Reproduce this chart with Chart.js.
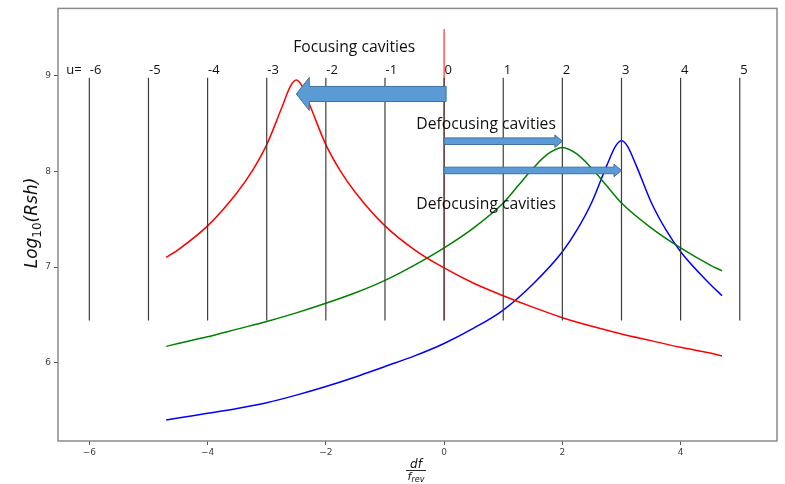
<!DOCTYPE html>
<html><head><meta charset="utf-8">
<script src="https://cdn.jsdelivr.net/npm/chart.js@4/dist/chart.umd.min.js"></script>
<style>html,body{margin:0;padding:0;background:#fff}#wrap{width:785px;height:484px}</style>
</head><body><div id="wrap"><canvas id="c" width="785" height="484"></canvas></div>
<script>
// ---- data ----
const redX   = [-4.7,-4.5,-4,-3.5,-3.25,-3,-2.75,-2.6,-2.5,-2.4,-2.25,-2,-1.75,-1.5,-1,-0.5,0,0.5,1,1.5,2,2.5,3,3.5,4,4.5,4.7];
const redVals= [7.10,7.18,7.43,7.78,8.00,8.28,8.66,8.89,8.955,8.89,8.66,8.28,8.00,7.78,7.43,7.18,6.99,6.83,6.70,6.58,6.47,6.38,6.30,6.23,6.16,6.10,6.07];
const greenX   = [-4.7,-4.5,-4,-3.5,-3,-2.5,-2,-1.5,-1,-0.5,0,0.5,1,1.25,1.5,1.75,2,2.25,2.5,2.75,3,3.5,4,4.5,4.7];
const greenVals= [6.17,6.20,6.27,6.35,6.43,6.52,6.62,6.73,6.86,7.02,7.20,7.41,7.67,7.85,8.03,8.18,8.25,8.18,8.03,7.85,7.67,7.41,7.20,7.02,6.96];
const blueX   = [-4.7,-4.5,-4,-3.5,-3,-2.5,-2,-1.5,-1,-0.5,0,0.5,1,1.5,2,2.25,2.5,2.75,2.9,3,3.1,3.25,3.5,3.75,4,4.5,4.7];
const blueVals= [5.40,5.42,5.47,5.52,5.58,5.66,5.75,5.85,5.96,6.07,6.20,6.36,6.55,6.82,7.16,7.39,7.68,8.06,8.265,8.32,8.265,8.06,7.68,7.39,7.16,6.82,6.70];
const uValues = [-6,-5,-4,-3,-2,-1,0,1,2,3,4,5];
const uLineRange = [6.44, 8.98];
const zeroLineRange = [6.44, 9.49];
const xTicks = [-6,-4,-2,0,2,4];
const yTicks = [6,7,8,9];
const arrows = [ // from, to, y
  {from:0, to:-2.5, y:8.81, big:true},
  {from:0, to:2, y:8.316, big:false},
  {from:0, to:3, y:8.01, big:false}
];
const notes = [
  {text:'Focusing cavities', x:-1.52, y:9.30, align:'center'},
  {text:'Defocusing cavities', x:-0.47, y:8.49, align:'left'},
  {text:'Defocusing cavities', x:-0.47, y:7.65, align:'left'}
];

const pts = (xa, ya) => xa.map((x,i)=>({x:x, y:ya[i]}));
const uLineData = [];
uValues.forEach(u=>{ uLineData.push({x:u,y:uLineRange[0]},{x:u,y:uLineRange[1]},{x:u,y:null}); });
const zeroLineData = [{x:0,y:zeroLineRange[0]},{x:0,y:zeroLineRange[1]}];

const fmt = v => v<0 ? '\u2212'+Math.abs(v) : String(v);

const deco = {
  id:'deco',
  afterDatasetsDraw(chart){
    const ctx = chart.ctx, xs_ = chart.scales.x, ys_ = chart.scales.y, ca = chart.chartArea;
    const px = v=>xs_.getPixelForValue(v), py = v=>ys_.getPixelForValue(v);
    ctx.save();
    // u labels
    ctx.fillStyle = '#111';
    ctx.font = '13px "Open Sans"';
    ctx.textBaseline = 'middle';
    ctx.textAlign = 'left';
    ctx.fillText('u=', px(-6.39), py(9.06));
    uValues.forEach(u=>{ ctx.fillText(String(u), px(u)+0.5, py(9.06)); });
    // arrows
    arrows.forEach(a=>{
      const x0 = px(a.from) + (a.big?2:0), x1 = px(a.to), y = py(a.y);
      const sh = a.big?7.5:3.3, hh = a.big?16.5:6.3, hl = a.big?13:7.5;
      const dir = x1 > x0 ? 1 : -1;
      const xb = x1 - dir*hl;
      ctx.beginPath();
      ctx.moveTo(x0, y-sh); ctx.lineTo(xb, y-sh); ctx.lineTo(xb, y-hh); ctx.lineTo(x1, y);
      ctx.lineTo(xb, y+hh); ctx.lineTo(xb, y+sh); ctx.lineTo(x0, y+sh); ctx.closePath();
      ctx.fillStyle = '#5b9bd5'; ctx.fill();
      ctx.strokeStyle = '#41719c'; ctx.lineWidth = 1; ctx.stroke();
    });
    // notes
    ctx.fillStyle = '#111';
    ctx.font = '15.7px "Open Sans"';
    ctx.textBaseline = 'middle';
    notes.forEach(n=>{ ctx.textAlign = n.align; ctx.fillText(n.text, px(n.x), py(n.y)); });
    // frame
    ctx.strokeStyle = '#8a8a8a'; ctx.lineWidth = 1.5;
    ctx.strokeRect(ca.left, ca.top, ca.right-ca.left, ca.bottom-ca.top);
    // y title
    ctx.save();
    ctx.translate(33, 223);
    ctx.rotate(-Math.PI/2);
    ctx.fillStyle = '#111';
    ctx.textBaseline = 'middle';
    ctx.textAlign = 'left';
    const big = 'italic 17px "DejaVu Sans"', small = '12px "DejaVu Sans"';
    ctx.font = big; const w1 = ctx.measureText('Log').width;
    ctx.font = small; const w2 = ctx.measureText('10').width;
    ctx.font = big; const w3 = ctx.measureText('(Rsh)').width;
    let sx = -(w1+w2+w3)/2;
    ctx.font = big; ctx.fillText('Log', sx, 0); sx += w1;
    ctx.font = small; ctx.fillText('10', sx, 5); sx += w2;
    ctx.font = big; ctx.fillText('(Rsh)', sx, 0);
    ctx.restore();
    // x title (fraction)
    const cx = 416;
    ctx.textAlign = 'center'; ctx.textBaseline = 'middle';
    ctx.font = 'italic 12px "DejaVu Sans"';
    ctx.fillText('df', cx, 465);
    ctx.beginPath(); ctx.moveTo(406, 470.5); ctx.lineTo(426, 470.5);
    ctx.strokeStyle = '#111'; ctx.lineWidth = 0.9; ctx.stroke();
    ctx.textAlign = 'left';
    ctx.font = 'italic 11px "DejaVu Sans"';
    const wf = ctx.measureText('f').width;
    ctx.font = 'italic 8px "DejaVu Sans"';
    const wr = ctx.measureText('rev').width;
    const fx = cx - (wf+wr)/2;
    ctx.font = 'italic 11px "DejaVu Sans"'; ctx.fillText('f', fx, 477);
    ctx.font = 'italic 8px "DejaVu Sans"'; ctx.fillText('rev', fx+wf, 480);
    ctx.restore();
  }
};

new Chart(document.getElementById('c'), {
  type:'line',
  data:{datasets:[
    {data:uLineData, borderColor:'#3c3c3c', borderWidth:1.2, tension:0, spanGaps:false, pointRadius:0},
    {data:zeroLineData, borderColor:'#ff3030', borderWidth:1.2, tension:0, pointRadius:0},
    {data:pts(redX, redVals), borderColor:'#ff0000', borderWidth:1.5, cubicInterpolationMode:'monotone', pointRadius:0},
    {data:pts(greenX, greenVals), borderColor:'#008000', borderWidth:1.5, cubicInterpolationMode:'monotone', pointRadius:0},
    {data:pts(blueX, blueVals), borderColor:'#0000ff', borderWidth:1.5, cubicInterpolationMode:'monotone', pointRadius:0}
  ]},
  options:{
    responsive:false, animation:false, devicePixelRatio:1,
    layout:{padding:{top:4,right:8,left:0,bottom:0}},
    plugins:{legend:{display:false}, tooltip:{enabled:false}},
    elements:{point:{radius:0}},
    scales:{
      x:{type:'linear', min:-6.53, max:5.63,
        afterBuildTicks:s=>{ s.ticks = xTicks.map(v=>({value:v})); },
        afterFit:s=>{ s.height = 43; },
        grid:{drawOnChartArea:false, drawTicks:true, tickLength:4, color:'#555'},
        border:{display:false},
        ticks:{font:{size:9, family:'DejaVu Sans'}, color:'#444', padding:2, maxRotation:0, callback:v=>fmt(v)}
      },
      y:{type:'linear', min:5.18, max:9.705,
        afterBuildTicks:s=>{ s.ticks = yTicks.map(v=>({value:v})); },
        afterFit:s=>{ s.width = 58; },
        grid:{drawOnChartArea:false, drawTicks:true, tickLength:4, color:'#555'},
        border:{display:false},
        ticks:{font:{size:9, family:'DejaVu Sans'}, color:'#444', padding:3, callback:v=>fmt(v)}
      }
    }
  },
  plugins:[deco]
});
</script>
</body></html>
